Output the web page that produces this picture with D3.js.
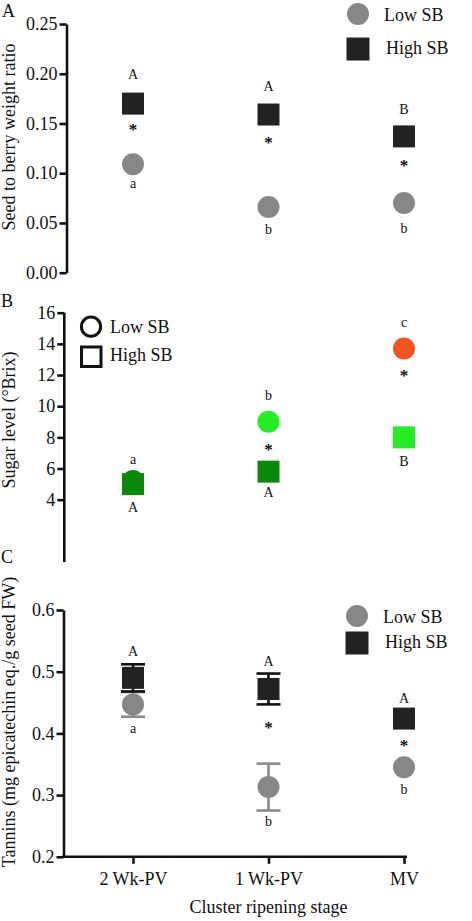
<!DOCTYPE html>
<html><head><meta charset="utf-8">
<script src="https://cdn.jsdelivr.net/npm/d3@7"></script>
<style>
body{margin:0;background:#fff;}
svg text{font-family:'Liberation Serif','Times New Roman',Times,Tinos,'Nimbus Roman','DejaVu Serif',serif;fill:#111;}
</style></head>
<body><svg id="c" width="472" height="921"></svg>
<script>
// ---------- data ----------
const categories = ["2 Wk-PV", "1 Wk-PV", "MV"];
const seriesNames = ["Low SB", "High SB"];

// Panel A: seed to berry weight ratio
const ratioLow  = [0.109, 0.066, 0.070];
const ratioHigh = [0.170, 0.159, 0.137];
const ratioTicks = [0.00, 0.05, 0.10, 0.15, 0.20, 0.25];

// Panel B: sugar level (°Brix)
const sugarLow  = [5.2, 9.0, 13.7];
const sugarHigh = [5.0, 5.8, 8.0];
const sugarLowColors  = ["#0a8a0a", "#22ee22", "#f25322"];
const sugarHighColors = ["#0a8a0a", "#0a8a0a", "#22ee22"];
const sugarTicks = [4, 6, 8, 10, 12, 14, 16];

// Panel C: tannins
const tanninLow     = [0.447, 0.313, 0.345];
const tanninLowErr  = [0.020, 0.038, 0.000];
const tanninHigh    = [0.490, 0.472, 0.424];
const tanninHighErr = [0.022, 0.025, 0.000];
const tanninTicks = [0.2, 0.3, 0.4, 0.5, 0.6];

// significance letters: [category index, series, text]
const lettersA = [[0,"High","A"],[0,"High","*"],[0,"Low","a"],
                  [1,"High","A"],[1,"High","*"],[1,"Low","b"],
                  [2,"High","B"],[2,"High","*"],[2,"Low","b"]];
const lettersB = [[0,"Low","a"],[0,"High","A"],
                  [1,"Low","b"],[1,"Low","*"],[1,"High","A"],
                  [2,"Low","c"],[2,"Low","*"],[2,"High","B"]];
const lettersC = [[0,"High","A"],[0,"Low","a"],
                  [1,"High","A"],[1,"High","*"],[1,"Low","b"],
                  [2,"High","A"],[2,"High","*"],[2,"Low","b"]];
// ---------- layout (pixel offsets of letters from their marker) ----------
const offA = [-29, 21, 20, -28, 23, 22, -27, 24, 25];
const offB = [-20, 23, -27, 23, 21, -25, 22, 24];
const offC = [-27, 25, -28, 33, 34, -20, 22, 22];

const svg = d3.select("#c");
const GRAY = "#878787", BLACK = "#222222";
const SZ = 22;

const x = d3.scalePoint().domain(categories).range([133, 404]);

function yAxis(g, scale, ticks, fmt, ax) {
  const a = d3.axisLeft(scale).tickValues(ticks).tickFormat(fmt).tickSize(7).tickPadding(2).tickSizeOuter(0);
  const gg = g.append("g").attr("transform", `translate(${ax},0)`).call(a);
  gg.attr("font-family", null);
  gg.selectAll("path,line").attr("stroke", "#111").attr("stroke-width", 2.6);
  gg.selectAll("text").attr("font-size", 18).attr("fill", "#111");
  return gg;
}
function glyphDy(t) {
  if (t === "*") return "0.62em";
  if (/[a-z]/.test(t) && t !== "b") return "0.25em";
  return "0.34em";
}
function letters(g, list, offs, yLow, yHigh) {
  list.forEach((d, i) => {
    const cy = (d[1] === "Low" ? yLow : yHigh)(d[0]);
    g.append("text").attr("x", x(categories[d[0]]))
      .attr("y", cy + offs[i]).attr("dy", glyphDy(d[2]))
      .attr("text-anchor", "middle").attr("font-size", d[2] === "*" ? 17 : 14)
      .attr("font-weight", d[2] === "*" ? "bold" : "normal").text(d[2]);
  });
}
function ylabel(text, cx, cy) {
  svg.append("text").attr("transform", `translate(${cx},${cy}) rotate(-90)`)
    .attr("text-anchor", "middle").attr("font-size", 18).text(text);
}
function panelLabel(t, xx, yy) {
  svg.append("text").attr("x", xx).attr("y", yy).attr("font-size", 18).text(t);
}
function filledLegend(y1, y2, xs, xt) {
  svg.append("circle").attr("cx", xs).attr("cy", y1).attr("r", 11).attr("fill", GRAY);
  svg.append("rect").attr("x", xs - 11.5).attr("y", y2 - 11.5).attr("width", 23).attr("height", 23).attr("fill", BLACK);
  svg.append("text").attr("x", xt).attr("y", y1 + 6.5).attr("font-size", 18).text(seriesNames[0]);
  svg.append("text").attr("x", xt + 2).attr("y", y2 + 4.5).attr("font-size", 18).text(seriesNames[1]);
}

// ===== Panel A =====
const yA = d3.scaleLinear().domain([0, 0.25]).range([272.7, 24]);
const gA = svg.append("g");
yAxis(gA, yA, ratioTicks, d3.format(".2f"), 66.5);
ylabel("Seed to berry weight ratio", 15, 137);
panelLabel("A", 2, 17);
gA.selectAll("circle.low").data(ratioLow).join("circle")
  .attr("cx", (d, i) => x(categories[i])).attr("cy", d => yA(d)).attr("r", SZ / 2).attr("fill", GRAY);
gA.selectAll("rect.high").data(ratioHigh).join("rect")
  .attr("x", (d, i) => x(categories[i]) - SZ / 2).attr("y", d => yA(d) - SZ / 2)
  .attr("width", SZ).attr("height", SZ).attr("fill", BLACK);
letters(gA, lettersA, offA, i => yA(ratioLow[i]), i => yA(ratioHigh[i]));
filledLegend(14, 49, 358, 384);

// ===== Panel B =====
const yB = d3.scaleLinear().domain([0, 16]).range([562, 312.7]);
const gB = svg.append("g");
const axB = yAxis(gB, yB, sugarTicks, d3.format("d"), 64.3);
axB.select("path.domain").attr("d", `M0,${yB(16)}V${yB(0)}`);
ylabel("Sugar level (°Brix)", 15, 420);
panelLabel("B", 1, 307);
gB.selectAll("circle.low").data(sugarLow).join("circle")
  .attr("cx", (d, i) => x(categories[i])).attr("cy", d => yB(d)).attr("r", SZ / 2)
  .attr("fill", (d, i) => sugarLowColors[i]);
gB.selectAll("rect.high").data(sugarHigh).join("rect")
  .attr("x", (d, i) => x(categories[i]) - SZ / 2).attr("y", d => yB(d) - SZ / 2)
  .attr("width", SZ).attr("height", SZ).attr("fill", (d, i) => sugarHighColors[i]);
letters(gB, lettersB, offB, i => yB(sugarLow[i]), i => yB(sugarHigh[i]));
// open-symbol legend
svg.append("circle").attr("cx", 91).attr("cy", 326.7).attr("r", 9.6).attr("fill", "none").attr("stroke", "#111").attr("stroke-width", 3);
svg.append("rect").attr("x", 81.5).attr("y", 347).attr("width", 19.5).attr("height", 19.5).attr("fill", "none").attr("stroke", "#111").attr("stroke-width", 3);
svg.append("text").attr("x", 110).attr("y", 333).attr("font-size", 18).text(seriesNames[0]);
svg.append("text").attr("x", 110).attr("y", 361).attr("font-size", 18).text(seriesNames[1]);

// ===== Panel C =====
const yC = d3.scaleLinear().domain([0.2, 0.6]).range([856.8, 610]);
const gC = svg.append("g");
yAxis(gC, yC, tanninTicks, d3.format(".1f"), 63.5);
// x axis
const xAx = gC.append("g").attr("transform", `translate(0,${yC(0.2)})`)
  .call(d3.axisBottom(x).tickSize(7).tickPadding(8).tickSizeOuter(0));
xAx.attr("font-family", null);
xAx.select("path.domain").attr("d", `M${63.5 - 1.3},0H407`);
xAx.selectAll("path,line").attr("stroke", "#111").attr("stroke-width", 2.6);
xAx.selectAll("text").attr("font-size", 18).attr("fill", "#111");
svg.append("text").attr("x", 268.5).attr("y", 913).attr("text-anchor", "middle").attr("font-size", 18).text("Cluster ripening stage");
ylabel("Tannins (mg epicatechin eq./g seed FW)", 15, 722);
panelLabel("C", 1, 563);

function errBars(vals, errs, color) {
  vals.forEach((v, i) => {
    if (!errs[i]) return;
    const cx = x(categories[i]);
    const t = yC(v + errs[i]), b = yC(v - errs[i]);
    const e = gC.append("g").attr("stroke", color).attr("stroke-width", 2.6);
    e.append("line").attr("x1", cx).attr("x2", cx).attr("y1", t).attr("y2", b);
    e.append("line").attr("x1", cx - 12).attr("x2", cx + 12).attr("y1", t).attr("y2", t);
    e.append("line").attr("x1", cx - 12).attr("x2", cx + 12).attr("y1", b).attr("y2", b);
  });
}
errBars(tanninLow, tanninLowErr, "#8a8a8a");
gC.selectAll("circle.low").data(tanninLow).join("circle")
  .attr("cx", (d, i) => x(categories[i])).attr("cy", d => yC(d)).attr("r", SZ / 2).attr("fill", GRAY);
errBars(tanninHigh, tanninHighErr, "#111");
gC.selectAll("rect.high").data(tanninHigh).join("rect")
  .attr("x", (d, i) => x(categories[i]) - SZ / 2).attr("y", d => yC(d) - SZ / 2)
  .attr("width", SZ).attr("height", SZ).attr("fill", BLACK);
letters(gC, lettersC, offC, i => yC(tanninLow[i]), i => yC(tanninHigh[i]));
filledLegend(616, 643, 357, 383);
</script></body></html>
